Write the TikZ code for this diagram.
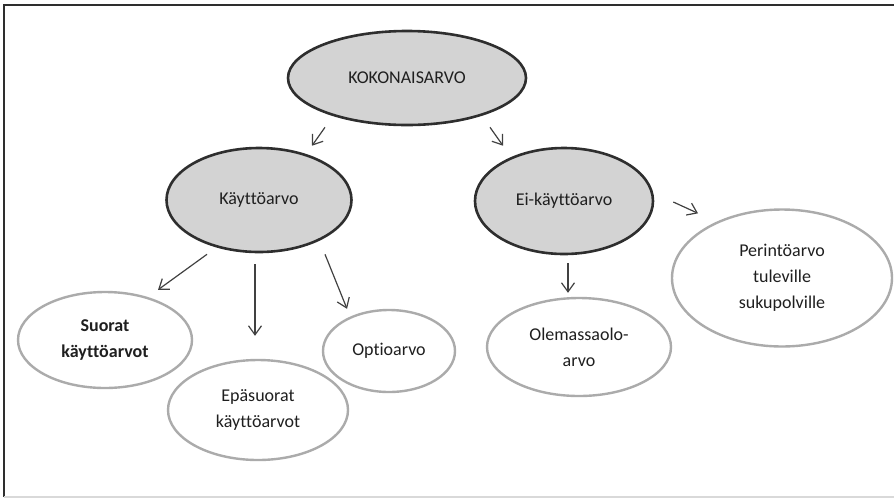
\documentclass[tikz,border=0pt]{standalone}
\usepackage{fontspec}
\setmainfont[Ligatures=NoCommon]{Carlito}
\usetikzlibrary{arrows.meta,shapes.geometric}
\definecolor{ovalgray}{HTML}{D3D3D3}
\definecolor{ovalline}{HTML}{2E2E2E}
\definecolor{paleline}{HTML}{ABABAB}
\definecolor{inkgray}{HTML}{1F1F1F}
\tikzset{
  mainoval/.style={ellipse, draw=ovalline, line width=2.6pt, fill=ovalgray, inner sep=0pt, align=center, text=inkgray},
  suboval/.style={ellipse, draw=paleline, line width=2.4pt, fill=white, inner sep=0pt, align=center, text=inkgray},
  arr/.style={draw=inkgray!85, line width=1.2pt, -{Straight Barb[length=9pt,width=13pt,line width=1.2pt]}}
}

\begin{document}
\begin{tikzpicture}[x=1pt,y=-1pt,font=\fontsize{18}{26}\selectfont]
\useasboundingbox (0,0) rectangle (894,499);
\draw[ovalline, line width=2.6pt] (4,497) -- (4,5) -- (894,5);
\draw[gray!30, line width=1.2pt] (4,497) -- (894,497);
\node[mainoval, minimum width=238pt, minimum height=94pt] (koko) at (407,78) {KOKONAISARVO};
\node[mainoval, minimum width=185pt, minimum height=104pt] (kaytto) at (259,200) {Käyttöarvo};
\node[mainoval, minimum width=178pt, minimum height=106pt] (eikaytto) at (564,201) {Ei-käyttöarvo};
\node[suboval, minimum width=174pt, minimum height=96pt, font=\fontsize{18}{26}\selectfont\bfseries] (suorat) at (105,340) {Suorat\\käyttöarvot};
\node[suboval, minimum width=180pt, minimum height=100pt] (epasuorat) at (258,410) {Epäsuorat\\käyttöarvot};
\node[suboval, minimum width=132pt, minimum height=82pt] (optio) at (389,351) {Optioarvo};
\node[suboval, minimum width=184pt, minimum height=98pt] (olemassa) at (579,347) {Olemassaolo-\\arvo};
\node[suboval, minimum width=220pt, minimum height=137pt] (perinto) at (782,278) {Perintöarvo\\tuleville\\sukupolville};
\draw[arr] ([xshift=-82pt,yshift=-1pt]koko.south) -- ([xshift=53pt,yshift=1pt]kaytto.north);
\draw[arr] ([xshift=83pt,yshift=-1pt]koko.south) -- ([xshift=-61pt,yshift=1pt]eikaytto.north);
\draw[arr] ([xshift=-52pt,yshift=-1pt]kaytto.south) -- ([xshift=53pt,yshift=1pt]suorat.north);
\draw[arr] ([xshift=-4pt,yshift=-11pt]kaytto.south) -- ([xshift=-3pt,yshift=23pt]epasuorat.north);
\draw[arr] ([xshift=66pt,yshift=-1pt]kaytto.south) -- ([xshift=-42pt,yshift=0pt]optio.north);
\draw[arr] ([xshift=4pt,yshift=-8pt]eikaytto.south) -- ([xshift=-11pt,yshift=4pt]olemassa.north);
\draw[arr] ([xshift=19pt,yshift=-1pt]eikaytto.east) -- ([xshift=-84pt,yshift=-5pt]perinto.north);
\end{tikzpicture}
\end{document}
